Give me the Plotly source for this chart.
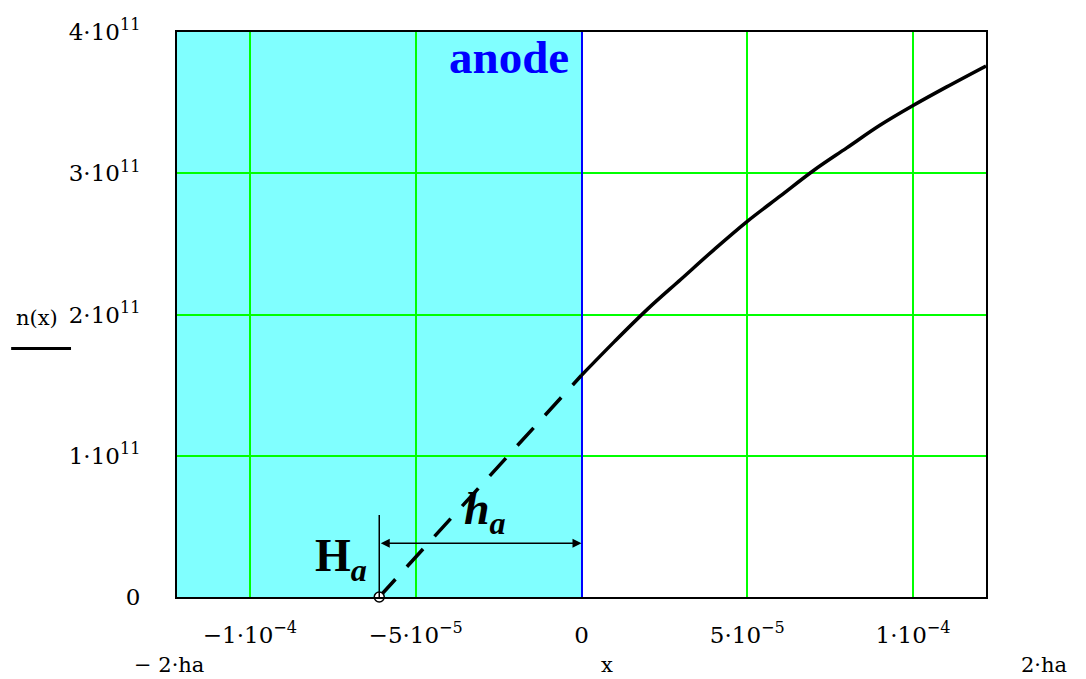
import plotly.graph_objects as go

# anode characteristic length and plot limits
ha = 6.1e-5
x_left, x_right = -2 * ha, 2 * ha

# solid curve n(x), x >= 0
x_curve = [0, 1e-5, 2e-5, 3e-5, 4e-5, 5e-5, 6e-5, 7e-5, 8e-5, 9e-5, 1e-4, 1.1e-4, 1.22e-4]
n_curve = [1.57e11, 1.81e11, 2.04e11, 2.25e11, 2.46e11, 2.66e11, 2.84e11, 3.02e11,
           3.18e11, 3.34e11, 3.48e11, 3.61e11, 3.76e11]

# dashed extrapolation into the anode
x_dash = [-ha, 0]
n_dash = [0, 1.57e11]

# ticks
x_ticks = [-1e-4, -5e-5, 0, 5e-5, 1e-4]
x_ticktext = ["\u22121\u00b710<sup>\u22124</sup>", "\u22125\u00b710<sup>\u22125</sup>", "0",
              "5\u00b710<sup>\u22125</sup>", "1\u00b710<sup>\u22124</sup>"]
y_ticks = [0, 1e11, 2e11, 3e11, 4e11]
y_ticktext = ["0", "1\u00b710<sup>11</sup>", "2\u00b710<sup>11</sup>",
              "3\u00b710<sup>11</sup>", "4\u00b710<sup>11</sup>"]

SERIF = "DejaVu Serif"
TIMES = "Liberation Serif"

fig = go.Figure()

fig.add_trace(go.Scatter(x=x_dash, y=n_dash, mode="lines",
                         line=dict(color="black", width=3.5, dash="24px,17px")))
fig.add_trace(go.Scatter(x=x_curve, y=n_curve, mode="lines", line_shape="spline",
                         line=dict(color="black", width=3.5)))
fig.add_trace(go.Scatter(x=[-ha], y=[0], mode="markers", cliponaxis=False,
                         marker=dict(size=10, color="white", line=dict(color="black", width=1.5))))

# anode region
fig.add_shape(type="rect", xref="x", yref="y", x0=x_left, x1=0, y0=0, y1=4e11,
              fillcolor="rgb(128,255,255)", line_width=0, layer="below")
# H_a marker line
fig.add_shape(type="line", xref="x", yref="y", x0=-ha, x1=-ha, y0=0, y1=0.58e11,
              line=dict(color="black", width=1.5))
# bar under n(x)
fig.add_shape(type="line", xref="paper", yref="paper", x0=-0.205, x1=-0.131, y0=0.44, y1=0.44,
              line=dict(color="black", width=3))

# h_a dimension arrow
fig.add_annotation(x=0, y=0.38e11, ax=-ha, ay=0.38e11, xref="x", yref="y", axref="x", ayref="y",
                   showarrow=True, arrowside="end+start", arrowhead=2, arrowsize=1.2,
                   arrowwidth=1.5, arrowcolor="black", text="")

annots = [
    dict(x=0, y=3.82e11, xref="x", yref="y", xanchor="right", xshift=-11,
         text="<b>anode</b>", font=dict(family=TIMES, size=47, color="blue")),
    dict(x=-ha, y=0.27e11, xref="x", yref="y", xanchor="right", xshift=-10,
         text="<b>H</b><sub><b><i>a</i></b></sub>", font=dict(family=TIMES, size=46, color="black")),
    dict(x=-2.9e-5, y=0.6e11, xref="x", yref="y", xanchor="center",
         text="<b><i>h</i></b><sub><b><i>a</i></b></sub>", font=dict(family=TIMES, size=46, color="black")),
    dict(x=-0.173, y=0.493, xref="paper", yref="paper", xanchor="center",
         text="n(x)", font=dict(family=SERIF, size=21, color="black")),
    dict(x=-0.01, y=-0.12, xref="paper", yref="paper", xanchor="center",
         text="\u2212 2\u00b7ha", font=dict(family=SERIF, size=21, color="black")),
    dict(x=0.531, y=-0.12, xref="paper", yref="paper", xanchor="center",
         text="x", font=dict(family=SERIF, size=21, color="black")),
    dict(x=1.072, y=-0.12, xref="paper", yref="paper", xanchor="center",
         text="2\u00b7ha", font=dict(family=SERIF, size=21, color="black")),
]
for a in annots:
    fig.add_annotation(showarrow=False, yanchor="middle", **a)

fig.update_xaxes(range=[x_left, x_right], tickvals=x_ticks, ticktext=x_ticktext,
                 showgrid=True, gridcolor="#00ff00", gridwidth=1.5,
                 zeroline=True, zerolinecolor="blue", zerolinewidth=2,
                 showline=True, linecolor="black", linewidth=2, mirror=True,
                 ticks="", ticklabelstandoff=16, automargin=False,
                 tickfont=dict(family=SERIF, size=23, color="black"))
fig.update_yaxes(range=[0, 4.0005e11], tickvals=y_ticks, ticktext=y_ticktext,
                 showgrid=True, gridcolor="#00ff00", gridwidth=1.5,
                 zeroline=False,
                 showline=True, linecolor="black", linewidth=2, mirror=True,
                 ticks="", ticklabelstandoff=30, automargin=False,
                 tickfont=dict(family=SERIF, size=23, color="black"))

fig.update_layout(width=1086, height=679, showlegend=False,
                  margin=dict(l=169, r=108, t=24, b=90),
                  plot_bgcolor="white", paper_bgcolor="white")

fig.write_html("out.html")
